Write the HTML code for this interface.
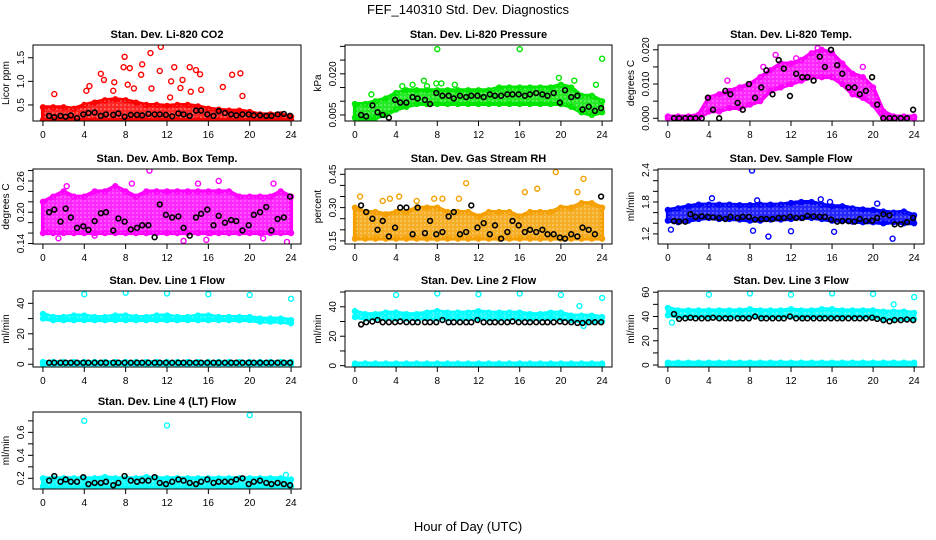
<!DOCTYPE html>
<html><head><meta charset="utf-8">
<style>
html,body{margin:0;padding:0;background:#fff;}
svg{display:block;font-family:"Liberation Sans",sans-serif;}
</style></head>
<body>
<svg id="chart" width="936" height="540" viewBox="0 0 936 540">
<defs>
<pattern id="speck" width="4" height="4" patternUnits="userSpaceOnUse"><rect width="4" height="4" fill="#fff" opacity="0"/><circle cx="1" cy="1" r="0.8" fill="#fff" opacity="0.5"/></pattern>
</defs>
<text x="468" y="14" text-anchor="middle" font-size="13">FEF_140310  Std. Dev. Diagnostics</text>
<text x="468" y="531" text-anchor="middle" font-size="13">Hour of Day (UTC)</text>
</svg>
<script>
// shared hours for black (hourly-average) series
const blkH=[0.6,1.1,1.7,2.2,2.7,3.3,3.9,4.4,5,5.6,6.1,6.8,7.3,7.9,8.5,9.1,9.6,10.2,10.8,11.3,11.9,12.5,13.1,13.6,14.2,14.8,15.3,15.9,16.5,17,17.6,18.2,18.7,19.3,19.9,20.4,21,21.6,22.1,22.7,23.3,23.9];
const bandH=[0,1,2,3,4,5,6,7,8,9,10,11,12,13,14,15,16,17,18,19,20,21,22,23,24];
const xTicks=[0,4,8,12,16,20,24];

// Panel 1: CO2
const co2Lo=[0.18,0.18,0.18,0.18,0.18,0.18,0.18,0.18,0.18,0.18,0.18,0.18,0.18,0.18,0.18,0.18,0.18,0.18,0.18,0.18,0.18,0.18,0.18,0.18,0.18];
const co2Hi=[0.45,0.45,0.45,0.42,0.5,0.55,0.6,0.62,0.6,0.55,0.5,0.5,0.48,0.5,0.5,0.47,0.42,0.4,0.38,0.38,0.35,0.3,0.3,0.3,0.25];
const co2OutX=[1.1,4.2,4.5,5.6,5.9,6.9,7.9,7.8,8.4,8.2,9.6,9.5,10.4,11.4,11.3,10.5,12.7,12.4,13.5,14.2,14.8,15.2,15.3,17.4,18.3,19.1,19.3,12.3,13.3,8.8,6.8,14.3];
const co2OutY=[0.73,0.8,0.9,1.16,1.03,0.98,1.52,1.3,1.28,0.93,1.36,1.14,1.6,1.73,1.22,0.85,1.3,1.0,1.03,1.3,1.24,1.15,0.82,0.88,1.14,1.17,0.69,0.66,0.86,0.85,0.8,0.78];
const co2Blk=[0.27,0.24,0.27,0.25,0.28,0.22,0.3,0.33,0.34,0.27,0.3,0.29,0.32,0.25,0.29,0.29,0.28,0.31,0.3,0.3,0.29,0.26,0.32,0.3,0.27,0.38,0.38,0.3,0.27,0.37,0.33,0.3,0.28,0.3,0.3,0.28,0.28,0.27,0.27,0.3,0.31,0.27];

// Panel 2: Pressure
const prLo=[0.004,0.003,0.004,0.005,0.007,0.008,0.009,0.009,0.009,0.009,0.009,0.009,0.009,0.009,0.009,0.009,0.009,0.009,0.009,0.009,0.009,0.008,0.006,0.005,0.006];
const prHi=[0.009,0.009,0.01,0.011,0.013,0.014,0.014,0.014,0.014,0.014,0.014,0.014,0.014,0.014,0.015,0.015,0.015,0.015,0.015,0.015,0.016,0.015,0.012,0.012,0.01];
const prOutX=[8,16,24,19.8,21.3,6.7,7.9,8.4,5.6,9.7,23.4,4.6,1.6,7];
const prOutY=[0.029,0.029,0.0255,0.0185,0.0175,0.0175,0.0165,0.0165,0.016,0.016,0.016,0.0155,0.0125,0.0155];
const prBlk=[0.005,0.0045,0.0085,0.006,0.005,0.004,0.0105,0.0095,0.0095,0.0115,0.011,0.0105,0.009,0.013,0.012,0.012,0.011,0.012,0.0115,0.012,0.012,0.0115,0.0125,0.012,0.012,0.0125,0.0125,0.0125,0.012,0.0125,0.013,0.0125,0.012,0.013,0.0095,0.014,0.0115,0.012,0.007,0.008,0.0065,0.0075];

// Panel 3: Li-820 temp
const tLo=[0,0,0,0,0.002,0.002,0.003,0.003,0.004,0.005,0.008,0.009,0.01,0.011,0.012,0.012,0.012,0.01,0.007,0.006,0.004,0,0,0,0];
const tHi=[0.0005,0.0005,0.0005,0.001,0.006,0.007,0.008,0.009,0.01,0.012,0.014,0.016,0.016,0.017,0.019,0.02,0.019,0.016,0.013,0.012,0.009,0.002,0.0005,0.0005,0.0005];
const tOutX=[5.8,10.5,14.6,19,12.5,9.3];
const tOutY=[0.011,0.0185,0.0205,0.015,0.0175,0.015];
const tBlk=[0,0,0,0,0,0,0.006,0.0025,0,0.008,0.007,0.0045,0.0025,0.01,0.006,0.009,0.014,0.007,0.017,0.0145,0.0065,0.013,0.012,0.012,0.011,0.018,0.015,0.02,0.0155,0.013,0.009,0.009,0.007,0.008,0.012,0.004,0,0,0,0,0,0.0025];

// Panel 4: Amb box temp
const abLo=[0.16,0.16,0.16,0.16,0.16,0.16,0.16,0.16,0.16,0.16,0.16,0.16,0.16,0.16,0.16,0.16,0.16,0.16,0.16,0.16,0.16,0.16,0.16,0.16,0.16];
const abHi=[0.22,0.23,0.24,0.23,0.23,0.24,0.24,0.25,0.24,0.23,0.24,0.24,0.24,0.24,0.24,0.24,0.24,0.24,0.24,0.23,0.23,0.23,0.23,0.24,0.23];
const abOutX=[10.3,2.3,8.6,15,17,22.3,13.6,23.6,15.8,1.5,21.3,5,0.5,16.2];
const abOutY=[0.28,0.25,0.255,0.255,0.26,0.255,0.145,0.143,0.147,0.15,0.15,0.155,0.162,0.16];
const abBlk=[0.2,0.205,0.182,0.207,0.19,0.17,0.173,0.166,0.183,0.198,0.2,0.165,0.188,0.182,0.167,0.17,0.175,0.175,0.152,0.215,0.195,0.19,0.192,0.17,0.155,0.19,0.197,0.205,0.175,0.193,0.18,0.185,0.183,0.165,0.175,0.195,0.2,0.21,0.165,0.187,0.19,0.23];

// Panel 5: Gas RH
const rhLo=[0.16,0.16,0.16,0.16,0.16,0.16,0.16,0.16,0.16,0.16,0.16,0.16,0.16,0.16,0.16,0.16,0.16,0.16,0.16,0.16,0.16,0.16,0.16,0.16,0.16];
const rhHi=[0.3,0.28,0.28,0.27,0.28,0.28,0.3,0.3,0.3,0.28,0.28,0.28,0.26,0.28,0.28,0.28,0.26,0.28,0.28,0.28,0.3,0.3,0.32,0.32,0.3];
const rhOutX=[0.5,2.7,3.4,4.3,8.5,10.8,16.5,17.7,19.5,21.6,22.2,10.1,7.7,6];
const rhOutY=[0.35,0.33,0.34,0.35,0.34,0.41,0.37,0.385,0.46,0.37,0.43,0.34,0.34,0.33];
const rhBlk=[0.31,0.28,0.25,0.2,0.24,0.17,0.21,0.3,0.3,0.18,0.3,0.185,0.24,0.18,0.19,0.26,0.28,0.18,0.19,0.31,0.21,0.23,0.18,0.22,0.16,0.19,0.24,0.22,0.19,0.2,0.19,0.2,0.18,0.18,0.165,0.16,0.18,0.17,0.21,0.2,0.18,0.35];

// Panel 6: Sample flow
const sfLo=[1.45,1.42,1.45,1.48,1.5,1.48,1.48,1.47,1.45,1.45,1.47,1.47,1.48,1.5,1.5,1.48,1.45,1.45,1.43,1.42,1.42,1.4,1.42,1.4,1.4];
const sfHi=[1.65,1.68,1.72,1.75,1.75,1.75,1.75,1.74,1.74,1.75,1.75,1.75,1.78,1.8,1.8,1.75,1.72,1.72,1.68,1.66,1.65,1.62,1.6,1.62,1.55];
const sfOutX=[8.2,8.3,0.3,9.8,12,16.2,21.9,4.3,14.9,20.4,8.7,15.8];
const sfOutY=[2.39,1.26,1.28,1.15,1.25,1.24,1.11,1.87,1.85,1.77,1.83,1.8];
const sfBlk=[1.44,1.43,1.43,1.57,1.52,1.53,1.52,1.51,1.5,1.48,1.52,1.5,1.52,1.52,1.47,1.48,1.48,1.48,1.5,1.5,1.52,1.5,1.5,1.54,1.53,1.52,1.52,1.47,1.43,1.44,1.44,1.43,1.48,1.44,1.45,1.5,1.57,1.55,1.38,1.38,1.42,1.5];

// Panel 7: Line 1 flow
const l1Lo=[30,29,29,29,29,29,29,29,29,29,29,29,29,29,29,29,29,29,29,29,29,28,28,28,27];
const l1Hi=[33,31,31,32,32,31,31,32,32,31,31,32,32,31,31,32,32,31,31,31,31,30,30,30,29];
const l1ZLo=[0,0,0,0,0,0,0,0,0,0,0,0,0,0,0,0,0,0,0,0,0,0,0,0,0];
const l1ZHi=[1.5,1.5,1.5,1.5,1.5,1.5,1.5,1.5,1.5,1.5,1.5,1.5,1.5,1.5,1.5,1.5,1.5,1.5,1.5,1.5,1.5,1.5,1.5,1.5,1.5];
const l1OutX=[4,8,12,16,20,24];
const l1OutY=[46,47,46.5,46,45.5,43];
const l1Blk=[1,1,1,1,1,1,1,1,1,1,1,1,1,1,1,1,1,1,1,1,1,1,1,1,1,1,1,1,1,1,1,1,1,1,1,1,1,1,1,1,1,1];

// Panel 8: Line 2 flow
const l2Lo=[33,32,32,32,32,32,32,32,32,32,32,32,32,32,32,32,32,32,32,32,32,31,30,30,30];
const l2Hi=[37,35,35,36,36,35,35,36,37,36,36,36,37,36,36,36,36,35,35,36,36,34,34,34,33];
const l2ZLo=[0,0,0,0,0,0,0,0,0,0,0,0,0,0,0,0,0,0,0,0,0,0,0,0,0];
const l2ZHi=[1.5,1.5,1.5,1.5,1.5,1.5,1.5,1.5,1.5,1.5,1.5,1.5,1.5,1.5,1.5,1.5,1.5,1.5,1.5,1.5,1.5,1.5,1.5,1.5,1.5];
const l2OutX=[4,8,12,16,20,21.8,22.2,24];
const l2OutY=[48,49,48.5,49,48,40.5,27,46];
const l2Blk=[28,29.5,30,31,29.5,29.5,29.5,30,29.5,29.5,29.5,29.5,29.5,29.5,31,29.5,29.5,29.5,29.5,29.5,31,29.5,29.5,29.5,29.5,29.5,30,29.5,29.5,29.5,29.5,29.5,29.5,29.5,30,29.5,29.5,29,29,29.5,29.5,29.5];

// Panel 9: Line 3 flow
const l3Lo=[41,40,40,40,40,40,40,40,40,40,40,40,40,40,40,40,40,40,40,40,40,38,38,38,38];
const l3Hi=[47,45,45,45,45,45,45,45,46,45,45,45,46,45,45,46,46,45,45,45,45,44,44,44,43];
const l3ZLo=[0,0,0,0,0,0,0,0,0,0,0,0,0,0,0,0,0,0,0,0,0,0,0,0,0];
const l3ZHi=[2,2,2,2,2,2,2,2,2,2,2,2,2,2,2,2,2,2,2,2,2,2,2,2,2];
const l3OutX=[4,8,12,16,20,22,24,0.4];
const l3OutY=[58,59,58,59,58.5,50,56,35];
const l3Blk=[42,38,38.5,39,38.5,38.5,38.5,39,38.5,38.5,38.5,38.5,38.5,38.5,40,38.5,38.5,38.5,38.5,38.5,40,38.5,38.5,38.5,38.5,38.5,38.5,38.5,38.5,38.5,38.5,38.5,38.5,38.5,39,38,37,36,37,37,37.5,37];

// Panel 10: Line 4 (LT) flow
const l4Lo=[0.13,0.13,0.13,0.13,0.13,0.13,0.13,0.13,0.13,0.13,0.13,0.13,0.13,0.13,0.13,0.13,0.13,0.13,0.13,0.13,0.13,0.13,0.13,0.13,0.13];
const l4Hi=[0.2,0.2,0.2,0.2,0.2,0.2,0.21,0.2,0.2,0.2,0.21,0.2,0.2,0.2,0.2,0.2,0.2,0.2,0.2,0.2,0.2,0.2,0.2,0.2,0.19];
const l4OutX=[4,12,20,23.5];
const l4OutY=[0.7,0.66,0.75,0.23];
const l4Blk=[0.18,0.22,0.17,0.19,0.17,0.17,0.21,0.15,0.16,0.16,0.17,0.14,0.16,0.22,0.18,0.17,0.18,0.18,0.21,0.16,0.15,0.17,0.19,0.18,0.16,0.15,0.17,0.19,0.16,0.17,0.17,0.17,0.19,0.2,0.15,0.17,0.18,0.16,0.15,0.16,0.15,0.14];

const NS='http://www.w3.org/2000/svg';
const svg=document.getElementById('chart');
function mk(tag,attrs,parent){const e=document.createElementNS(NS,tag);for(const k in attrs)e.setAttribute(k,attrs[k]);(parent||svg).appendChild(e);return e;}

const colX=[[33,301],[345,612],[658,924]];
const rowY=[[45,121],[169,244],[291,367],[412,489]];

const panels=[
 {name:'co2',title:'Stan. Dev. Li-820 CO2',ylab:'Licor ppm',col:0,row:0,ylim:[0.16,1.77],ticks:[0.5,1.0,1.5],labels:['0.5','1.0','1.5'],color:'#ff0000',bands:[[co2Lo,co2Hi]],ox:co2OutX,oy:co2OutY,blk:co2Blk},
 {name:'pressure',title:'Stan. Dev. Li-820 Pressure',ylab:'kPa',col:1,row:0,ylim:[0.0028,0.0305],ticks:[0.005,0.01,0.015,0.02,0.025,0.03],labels:['0.005','','','0.020','',''],color:'#00e600',bands:[[prLo,prHi]],ox:prOutX,oy:prOutY,blk:prBlk},
 {name:'li820-temp',title:'Stan. Dev. Li-820 Temp.',ylab:'degrees C',col:2,row:0,ylim:[-0.0008,0.0214],ticks:[0,0.005,0.01,0.015,0.02],labels:['0.000','','0.010','','0.020'],color:'#ff00ff',bands:[[tLo,tHi]],ox:tOutX,oy:tOutY,blk:tBlk},
 {name:'amb-box-temp',title:'Stan. Dev. Amb. Box Temp.',ylab:'degrees C',col:0,row:1,ylim:[0.139,0.283],ticks:[0.14,0.16,0.18,0.2,0.22,0.24,0.26,0.28],labels:['0.14','','','0.20','','','0.26',''],color:'#ff00ff',bands:[[abLo,abHi]],ox:abOutX,oy:abOutY,blk:abBlk},
 {name:'gas-rh',title:'Stan. Dev. Gas Stream RH',ylab:'percent',col:1,row:1,ylim:[0.136,0.474],ticks:[0.15,0.2,0.25,0.3,0.35,0.4,0.45],labels:['0.15','','','0.30','','','0.45'],color:'#f5a000',bands:[[rhLo,rhHi]],ox:rhOutX,oy:rhOutY,blk:rhBlk},
 {name:'sample-flow',title:'Stan. Dev. Sample Flow',ylab:'ml/min',col:2,row:1,ylim:[1.01,2.42],ticks:[1.2,1.4,1.6,1.8,2.0,2.2,2.4],labels:['1.2','','','1.8','','','2.4'],color:'#0000ff',bands:[[sfLo,sfHi]],ox:sfOutX,oy:sfOutY,blk:sfBlk},
 {name:'line1-flow',title:'Stan. Dev. Line 1 Flow',ylab:'ml/min',col:0,row:2,ylim:[-1.8,48.1],ticks:[0,10,20,30,40],labels:['0','','20','','40'],color:'#00ffff',bands:[[l1Lo,l1Hi],[l1ZLo,l1ZHi]],ox:l1OutX,oy:l1OutY,blk:l1Blk},
 {name:'line2-flow',title:'Stan. Dev. Line 2 Flow',ylab:'ml/min',col:1,row:2,ylim:[-0.9,50.7],ticks:[0,10,20,30,40,50],labels:['0','','20','','40',''],color:'#00ffff',bands:[[l2Lo,l2Hi],[l2ZLo,l2ZHi]],ox:l2OutX,oy:l2OutY,blk:l2Blk},
 {name:'line3-flow',title:'Stan. Dev. Line 3 Flow',ylab:'ml/min',col:2,row:2,ylim:[-1.6,61],ticks:[0,10,20,30,40,50,60],labels:['0','','20','','40','','60'],color:'#00ffff',bands:[[l3Lo,l3Hi],[l3ZLo,l3ZHi]],ox:l3OutX,oy:l3OutY,blk:l3Blk},
 {name:'line4-flow',title:'Stan. Dev. Line 4 (LT) Flow',ylab:'ml/min',col:0,row:3,ylim:[0.107,0.777],ticks:[0.2,0.3,0.4,0.5,0.6,0.7],labels:['0.2','','0.4','','0.6',''],color:'#00ffff',bands:[[l4Lo,l4Hi]],ox:l4OutX,oy:l4OutY,blk:l4Blk}
];

panels.forEach(p=>{
  const [x0,x1]=colX[p.col],[y0,y1]=rowY[p.row];
  const g=mk('g',{});
  
  
  const xs=h=>x0+(h+0.96)/25.92*(x1-x0);
  const ys=v=>y1-(v-p.ylim[0])/(p.ylim[1]-p.ylim[0])*(y1-y0);
  const clip='clip-'+p.name;
  const cp=mk('clipPath',{id:clip},g);mk('rect',{x:x0,y:y0,width:x1-x0,height:y1-y0},cp);
  const data=mk('g',{'clip-path':'url(#'+clip+')'},g);
  p.bands.forEach(([lo,hi],bi)=>{
    let pts=bandH.map((h,i)=>xs(h)+','+ys(hi[i]));
    pts=pts.concat(bandH.slice().reverse().map((h,j)=>{const i=bandH.length-1-j;return xs(h)+','+ys(lo[i]);}));
    const poly=mk('polygon',{points:pts.join(' '),fill:p.color,'fill-opacity':0.85,stroke:p.color,'stroke-width':4,'stroke-linejoin':'round'},data);
    
    
    const sp=mk('polygon',{points:pts.join(' '),fill:'url(#speck)'},data);
    
    
    bandH.forEach((h,i)=>{
      [lo[i],hi[i]].forEach(v=>{
        const c=mk('circle',{cx:xs(h),cy:ys(v),r:2.5,fill:'none',stroke:p.color,'stroke-width':1.3},data);
        
        
      });
    });
  });
  p.ox.forEach((h,i)=>{
    const c=mk('circle',{cx:xs(h),cy:ys(p.oy[i]),r:2.5,fill:'none',stroke:p.color,'stroke-width':1.4},data);
    
    
  });
  blkH.forEach((h,i)=>{
    const c=mk('circle',{cx:xs(h),cy:ys(p.blk[i]),r:2.4,fill:'none',stroke:'#000','stroke-width':1.6},data);
    
    
  });
  const box=mk('rect',{x:x0,y:y0,width:x1-x0,height:y1-y0,fill:'none',stroke:'#000','stroke-width':1},g);
  
  
  const t=mk('text',{x:(x0+x1)/2,y:y0-7,'text-anchor':'middle','font-size':11,'font-weight':'bold'},g);
  t.textContent=p.title;
  
  
  xTicks.forEach(h=>{
    mk('line',{x1:xs(h),x2:xs(h),y1:y1,y2:y1+5,stroke:'#000'},g);
    const tl=mk('text',{x:xs(h),y:y1+17,'text-anchor':'middle','font-size':10},g);
    tl.textContent=h;
    
    
  });
  p.ticks.forEach((v,i)=>{
    mk('line',{x1:x0-5,x2:x0,y1:ys(v),y2:ys(v),stroke:'#000'},g);
    if(p.labels[i]){
      const tl=mk('text',{x:x0-9,y:ys(v),'text-anchor':'middle','font-size':10,transform:'rotate(-90 '+(x0-9)+' '+ys(v)+')'},g);
      tl.textContent=p.labels[i];
      
      
    }
  });
  const yl=mk('text',{x:x0-24,y:(y0+y1)/2,'text-anchor':'middle','font-size':10,transform:'rotate(-90 '+(x0-24)+' '+((y0+y1)/2)+')'},g);
  yl.textContent=p.ylab;
  
  
});
</script>
</body></html>
